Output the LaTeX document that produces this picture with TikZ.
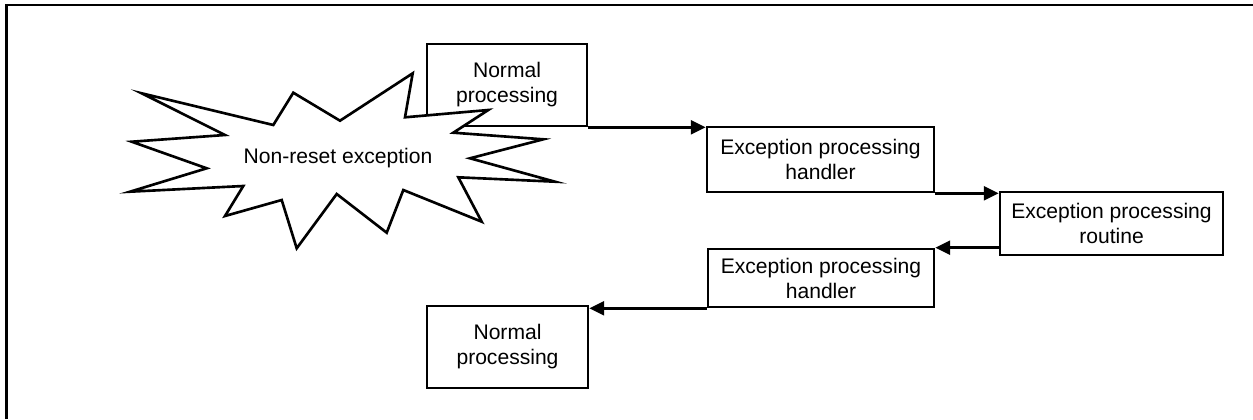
\documentclass[tikz,border=0pt]{standalone}
\usepackage{fontspec}
\setmainfont{Liberation Sans}
\usetikzlibrary{arrows.meta}

\tikzset{
  procbox/.style={draw,line width=1.5pt,rectangle,align=center,inner sep=0pt,
    font=\fontsize{12}{14.2}\selectfont},
  flow/.style={-{Triangle[length=8.5pt,width=8pt]},line width=1.4pt}
}

\begin{document}
\begin{tikzpicture}[x=0.02cm,y=-0.02cm]
\useasboundingbox (0,0) rectangle (1253,419);
% frame (top and left edges only)
\draw[line width=1.5pt] (6.5,419) -- (6.5,5) -- (1253,5);
% boxes
\node[procbox,minimum width=3.2cm,minimum height=1.64cm] (normA) at (507,85) {Normal\\processing};
\node[procbox,minimum width=4.54cm,minimum height=1.3cm] (handA) at (820.5,159.5) {Exception processing\\handler};
\node[procbox,minimum width=4.46cm,minimum height=1.26cm] (rout) at (1111.5,223.5) {Exception processing\\routine};
\node[procbox,minimum width=4.52cm,minimum height=1.16cm] (handB) at (821,278) {Exception processing\\handler};
\node[procbox,minimum width=3.22cm,minimum height=1.64cm] (normB) at (507.5,347) {Normal\\processing};
% starburst
\draw[line width=1.5pt,fill=white] (141.7,93.3) -- (273.3,125) -- (293.3,92.7) -- (340,120.7)
  -- (412.7,73.3) -- (405,117.3) -- (488.3,110) -- (453.3,132.7) -- (543.3,139.3)
  -- (470,158.3) -- (555,181.7) -- (458.3,177.3) -- (481.7,221.7) -- (403.3,190)
  -- (386.7,232.7) -- (336.7,194) -- (296.7,248.3) -- (281.7,200) -- (225,216)
  -- (243.3,186) -- (130,191.7) -- (206.7,168.3) -- (131.7,141.7) -- (225,135) -- cycle;
\node[font=\fontsize{12}{14.2}\selectfont] (exc) at (338,158) {Non-reset exception};
% connectors
\draw[flow] (normA.south east) -- (normA.south east -| handA.west);
\draw[flow] (handA.south east) -- (handA.south east -| rout.west);
\draw[flow] (handB.north east -| rout.west) -- (handB.north east);
\draw[flow] (handB.south west) -- (handB.south west -| normB.east);
\end{tikzpicture}
\end{document}
